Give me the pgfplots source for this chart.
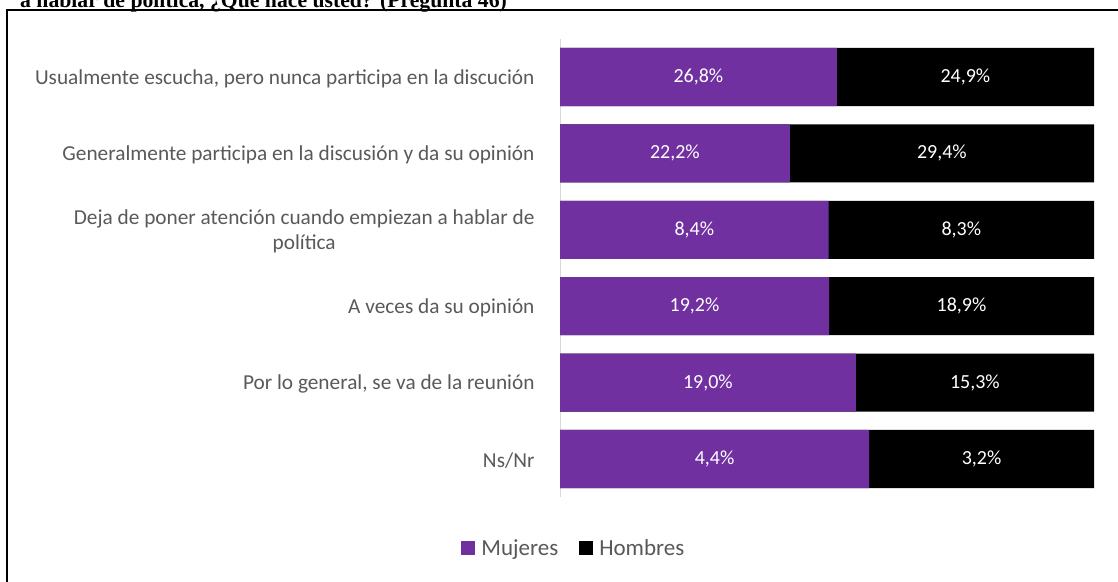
\documentclass[border=0pt]{standalone}
\usepackage{pgfplots}
\pgfplotsset{compat=1.18}
\usepackage{pgfplotstable}
\usepackage{fontspec}
\setmainfont{Carlito}
\newfontfamily\titlefont{Liberation Serif}
\definecolor{mpurple}{HTML}{7030A0}
\definecolor{lblgray}{HTML}{595959}
\definecolor{axgray}{HTML}{D9D9D9}

\pgfplotstableread{
y m h
0 26.8 24.9
1 22.2 29.4
2 8.4 8.3
3 19.2 18.9
4 19.0 15.3
5 4.4 3.2
}\datatab

\begin{document}
\begin{tikzpicture}
\useasboundingbox (0bp,0bp) rectangle (1118bp,582bp);
\draw[overlay, line width=2.2bp] (7bp,-20bp) -- (7bp,572bp) -- (1140bp,572bp);
\node[overlay, anchor=base west, inner sep=0pt, font=\titlefont\bfseries\fontsize{21.7bp}{24bp}\selectfont] at (20bp,574.5bp) {a hablar de política, ¿Qué hace usted? (Pregunta 46)};
\begin{axis}[
  at={(560bp,84.8bp)}, anchor=south west,
  scale only axis, width=534bp, height=458.4bp,
  xmin=0, xmax=1, ymin=-0.5, ymax=5.5,
  y dir=reverse,
  axis x line=none,
  axis y line=left,
  axis line style={-, axgray, line width=1bp},
  major tick length=0pt,
  xtick=\empty,
  ytick={0,...,5},
  yticklabels={{Usualmente escucha, pero nunca participa en la discución},
    {Generalmente participa en la discusión y da su opinión},
    {Deja de poner atención cuando empiezan a hablar de\\política},
    {A veces da su opinión},
    {Por lo general, se va de la reunión},
    {Ns/Nr}},
  yticklabel style={align=center, text=lblgray, font=\fontsize{21.3bp}{25.5bp}\selectfont, xshift=-22bp, yshift=-1.5bp},
  /pgf/number format/.cd, fixed, fixed zerofill, precision=1, use comma, assume math mode=true,
  /pgfplots/.cd,
  legend style={at={(0.026,-0.111)}, anchor=center, draw=none, legend columns=2,
    font=\fontsize{23bp}{26bp}\selectfont, text=lblgray,
    /tikz/every odd column/.append style={column sep=4bp},
    /tikz/every even column/.append style={column sep=19bp}},
  legend image code/.code={\path[#1] (0bp,-7bp) rectangle (14bp,7bp);},
]
\addlegendimage{fill=mpurple, draw=none}
\addlegendentry{Mujeres}
\addlegendimage{fill=black, draw=none}
\addlegendentry{Hombres}
\addplot[xbar, bar width=0.76, bar shift=0pt, fill=black, draw=none, forget plot]
  table[x expr=1, y=y] {\datatab};
\addplot[xbar, bar width=0.76, bar shift=0pt, fill=mpurple, draw=none, forget plot]
  table[x expr={\thisrow{m}/(\thisrow{m}+\thisrow{h})}, y=y] {\datatab};
\addplot[only marks, mark=none, forget plot, point meta=explicit,
  nodes near coords={\pgfmathprintnumber{\pgfplotspointmeta}\%},
  every node near coord/.append style={anchor=center, text=white, font=\fontsize{20bp}{24bp}\selectfont}]
  table[x expr={\thisrow{m}/(2*(\thisrow{m}+\thisrow{h}))}, y=y, meta=m] {\datatab};
\addplot[only marks, mark=none, forget plot, point meta=explicit,
  nodes near coords={\pgfmathprintnumber{\pgfplotspointmeta}\%},
  every node near coord/.append style={anchor=center, text=white, font=\fontsize{20bp}{24bp}\selectfont}]
  table[x expr={(\thisrow{m}/(\thisrow{m}+\thisrow{h})+1)/2}, y=y, meta=h] {\datatab};
\end{axis}
\end{tikzpicture}
\end{document}
